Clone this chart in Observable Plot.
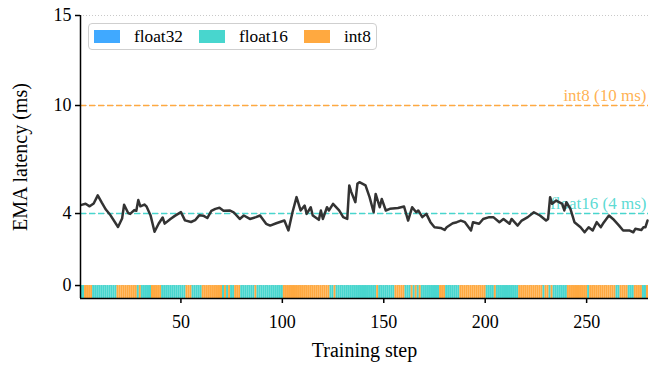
<!DOCTYPE html>
<html><head><meta charset="utf-8">
<script src="https://cdn.jsdelivr.net/npm/d3@7"></script>
<script src="https://cdn.jsdelivr.net/npm/@observablehq/plot@0.6"></script>
<style>
body{margin:0;background:#fff;}
#wrap{position:relative;width:670px;height:365px;font-family:"Liberation Serif","Times New Roman","DejaVu Serif",serif;}
#legend{position:absolute;left:88px;top:23px;width:287px;height:25px;border:1.5px solid #cfcfcf;border-radius:4px;background:rgba(255,255,255,0.85);display:flex;align-items:center;font-size:17.3px;color:#000;}
.sw{display:inline-block;width:26px;height:13px;}
.lab{margin-left:14px;margin-right:16px;}
#legend .item:first-child .sw{margin-left:5px;}
.item{display:flex;align-items:center;}
</style></head>
<body><div id="wrap"></div>
<script>
const precisions = ["float32", "float16", "int8"];
const colors = ["#40A9FF", "#48D6CE", "#FFA940"];

// run-length encoded precision per training step (1..280)
const runPrec = ["float16","int8","float16","int8","float16","int8","float16","int8","float16","int8","float16","int8",
  "float16","int8","float16","int8","float16","int8","float16","int8","float16","int8","float16","int8","float16","int8",
  "float16","int8","float16","int8","float16","int8","float16","int8","float16","int8","float16","int8","float16","int8",
  "float16","int8","float16","int8","float16","int8","float16","int8","float16","int8","float16","int8","float16","int8",
  "float16","int8"];
const runLen = [2,4,12,10,1,1,5,5,12,3,5,10,
  1,1,1,1,2,3,7,1,13,23,2,1,20,1,
  8,5,3,1,1,1,1,1,9,3,7,13,4,1,
  11,12,1,2,1,1,7,10,1,13,2,4,3,4,
  2,1];

const steps = [1,3,5,7,9,11,13,15,19,21,22,24,25,27,28,29,30,32,33,35,37,39,41,42,45,47,50,52,55,57,59,61,63,65,67,69,71,74,76,79,81,84,87,89,92,94,97,
  101,103,105,107,109,111,112,114,115,118,119,120,122,123,125,128,130,132,133,134,136,137,138,141,143,145,146,148,149,151,153,157,160,162,164,166,167,169,171,173,175,178,180,181,184,186,188,190,193,194,197,199,
  202,204,207,209,212,213,216,218,221,224,227,230,231,232,233,235,238,239,240,242,244,247,249,251,253,255,257,258,261,263,266,268,271,273,274,277,278,279,280];
const ema = [4.48,4.54,4.40,4.56,5.01,4.60,4.22,3.95,3.25,3.72,4.49,4.03,3.98,4.19,4.15,4.75,4.40,4.50,4.40,3.91,2.99,3.43,3.78,3.44,3.71,3.87,4.08,3.62,3.53,3.63,3.90,3.88,3.75,4.15,4.26,4.32,4.15,4.17,4.07,3.70,3.89,3.70,3.80,3.89,3.43,3.33,3.46,
  3.61,3.06,4.07,4.91,4.17,4.44,3.98,4.35,3.89,3.65,4.17,3.70,4.35,4.17,4.54,4.17,3.80,3.70,5.56,5.19,4.63,5.65,5.74,5.56,4.91,4.07,5.09,4.35,4.81,4.17,4.26,4.31,4.39,3.61,4.35,4.07,4.17,3.80,3.98,3.52,3.24,3.20,3.09,3.24,3.46,3.52,3.61,3.52,3.06,3.52,3.43,3.70,
  3.80,3.80,3.52,3.70,3.43,3.70,3.33,3.61,3.80,4.07,3.89,3.61,3.70,4.91,4.54,4.72,4.54,4.17,4.63,4.26,3.52,3.24,2.96,3.24,3.06,3.52,3.24,3.43,3.89,3.70,3.33,3.06,3.06,2.96,3.15,3.09,3.24,3.24,3.61];

const thresholdPrec = ["int8", "float16"];
const thresholdMs = [10, 4];
const thresholdLabel = ["int8 (10 ms)", "float16 (4 ms)"];

const yTicks = [0, 4, 10, 15];
const xTicks = [50, 100, 150, 200, 250];
const xDomain = [0.5, 280.5];
const yDomain = [-0.72, 15];

// build tables
const band = [];
let s = 1;
runPrec.forEach((p, i) => { for (let k = 0; k < runLen[i]; k++) { band.push({step: s, prec: p}); s++; } });
const line = steps.map((st, i) => ({step: st, ms: ema[i]}));
const thresholds = thresholdPrec.map((p, i) => ({prec: p, ms: thresholdMs[i], label: thresholdLabel[i]}));

const serif = "'Liberation Serif', 'Times New Roman', serif";
const chart = Plot.plot({
  width: 670, height: 365,
  marginLeft: 80, marginRight: 22, marginTop: 15, marginBottom: 67,
  x: {domain: xDomain},
  y: {domain: yDomain},
  color: {domain: precisions, range: colors},
  style: {fontFamily: serif, fontSize: "18px", color: "#000", background: "#fff"},
  marks: [
    Plot.ruleY(yTicks, {stroke: "#bbb", strokeDasharray: "1,2", strokeWidth: 0.8}),
    Plot.rect(band, {x1: d => d.step - 0.5, x2: d => d.step + 0.5, y1: yDomain[0], y2: 0, fill: "prec"}),
    Plot.ruleY(thresholds, {y: "ms", stroke: "prec", strokeDasharray: "6,3", strokeWidth: 1.5}),
    Plot.text(thresholds, {y: "ms", text: "label", fill: "prec", frameAnchor: "right", textAnchor: "end", dx: -2, dy: -10, fontSize: 17, fontFamily: serif, fillOpacity: 0.9}),
    Plot.line(line, {x: "step", y: "ms", stroke: "#333", strokeWidth: 2.5, strokeLinejoin: "round"}),
    Plot.ruleX([xDomain[0]], {stroke: "#000", strokeWidth: 1.5}),
    Plot.ruleY([yDomain[0]], {stroke: "#000", strokeWidth: 1.5}),
    Plot.axisX({ticks: xTicks, tickSize: 5, tickPadding: 12, strokeWidth: 1.5, label: null, fontSize: 18, fontFamily: serif}),
    Plot.axisX({ticks: [], label: "Training step", labelAnchor: "center", labelArrow: "none", labelOffset: 58, fontSize: 20, fontFamily: serif}),
    Plot.axisY({ticks: yTicks, tickSize: 5, tickPadding: 4, strokeWidth: 1.5, label: null, fontSize: 18, fontFamily: serif}),
    Plot.axisY({ticks: [], label: "EMA latency (ms)", labelAnchor: "center", labelArrow: "none", labelOffset: 68, fontSize: 20, fontFamily: serif})
  ]
});
const wrap = document.getElementById("wrap");
wrap.appendChild(chart);

const legend = document.createElement("div");
legend.id = "legend";
precisions.forEach((p, i) => {
  const item = document.createElement("div");
  item.className = "item";
  const sw = document.createElement("span");
  sw.className = "sw"; sw.style.background = colors[i];
  const lab = document.createElement("span");
  lab.className = "lab"; lab.textContent = p;
  item.appendChild(sw); item.appendChild(lab);
  legend.appendChild(item);
});
wrap.appendChild(legend);
</script>
</body></html>
